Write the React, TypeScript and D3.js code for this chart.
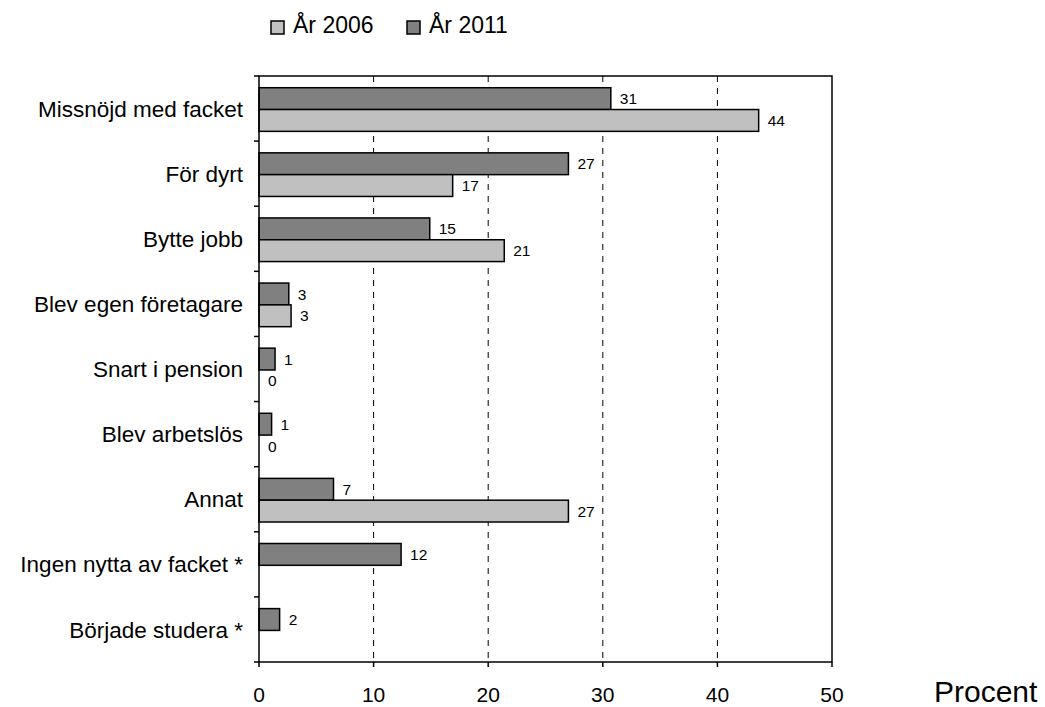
import React from "react";
import { scaleLinear, scaleBand, format } from "d3";

const categories = [
  "Missnöjd med facket",
  "För dyrt",
  "Bytte jobb",
  "Blev egen företagare",
  "Snart i pension",
  "Blev arbetslös",
  "Annat",
  "Ingen nytta av facket *",
  "Började studera *",
];

// 2011 drawn first (upper bar), 2006 below; null = not asked that year
const values2011: (number | null)[] = [30.7, 27.0, 14.9, 2.6, 1.4, 1.1, 6.5, 12.4, 1.8];
const values2006: (number | null)[] = [43.6, 16.9, 21.4, 2.8, 0, 0, 27.0, null, null];

const seriesNames = ["År 2011", "År 2006"];
const legendOrder = ["År 2006", "År 2011"];
const seriesColors: Record<string, string> = { "År 2006": "#c0c0c0", "År 2011": "#808080" };
const xTicks = [0, 10, 20, 30, 40, 50];

const W = 1045;
const H = 707;
const left = 259;
const right = 832;
const top = 76;
const bottom = 662;
const font = "'Liberation Sans', Arial, sans-serif";

export default function App() {
  let x = scaleLinear().domain([0, 50]).range([left, right]);
  let y = scaleBand<string>().domain(categories).range([top, bottom]);
  let bw = y.bandwidth();
  let inner = scaleBand<string>()
    .domain(seriesNames)
    .range([bw * 0.18, bw * 0.85]);
  let fmt = format(".0f");

  let rows = categories.map((c, i) => ({
    cat: c,
    vals: [values2011[i], values2006[i]],
  }));

  return (
    <svg
      width={W}
      height={H}
      style={{ position: "absolute", left: 0, top: 0, fontFamily: font }}
    >
      <rect width={W} height={H} fill="#fff" />

      {/* legend */}
      {legendOrder.map((name, i) => {
        let lx = i === 0 ? 271 : 407;
        return (
          <g key={name}>
            <rect x={lx} y={21} width={13} height={13} fill={seriesColors[name]} stroke="#000" strokeWidth={1.5} />
            <text x={lx + 22} y={33} fontSize={23} fill="#000">
              {name}
            </text>
          </g>
        );
      })}

      {/* grid lines */}
      {xTicks.slice(1, -1).map((t) => (
        <line key={t} x1={x(t)} x2={x(t)} y1={top} y2={bottom} stroke="#000" strokeWidth={1} strokeDasharray="6,6" />
      ))}

      {/* bars */}
      {rows.map((r) => (
        <g key={r.cat} transform={`translate(0,${y(r.cat)})`}>
          {r.vals.map((v, j) => {
            if (v === null) return null;
            let s = seriesNames[j];
            let by = inner(s)!;
            let bh = inner.bandwidth();
            return (
              <g key={s}>
                {v > 0 && (
                  <rect
                    x={x(0)}
                    y={by}
                    width={x(v) - x(0)}
                    height={bh}
                    fill={seriesColors[s]}
                    stroke="#000"
                    strokeWidth={1.5}
                  />
                )}
                <text x={x(v) + 9} y={by + bh / 2} dy="0.36em" fontSize={15.5} fill="#000">
                  {fmt(v)}
                </text>
              </g>
            );
          })}
        </g>
      ))}

      {/* frame */}
      <path
        d={`M${left},${top}H${right}V${bottom}H${left}Z`}
        fill="none"
        stroke="#000"
        strokeWidth={1.5}
      />

      {/* y ticks and labels */}
      {categories.map((c) => (
        <line key={c} x1={left - 5} x2={left} y1={y(c)} y2={y(c)} stroke="#000" strokeWidth={1.5} />
      ))}
      <line x1={left - 5} x2={left} y1={bottom} y2={bottom} stroke="#000" strokeWidth={1.5} />
      {categories.map((c) => (
        <text
          key={c}
          x={243}
          y={y(c)! + bw / 2}
          dy="0.36em"
          textAnchor="end"
          fontSize={22.5}
          fill="#000"
        >
          {c}
        </text>
      ))}

      {/* x ticks and labels */}
      {xTicks.map((t) => (
        <g key={t}>
          <line x1={x(t)} x2={x(t)} y1={bottom} y2={bottom + 5} stroke="#000" strokeWidth={1.5} />
          <text x={x(t)} y={702} textAnchor="middle" fontSize={21} fill="#000">
            {t}
          </text>
        </g>
      ))}
      <text x={934} y={702} fontSize={30} fill="#000">
        Procent
      </text>
    </svg>
  );
}
